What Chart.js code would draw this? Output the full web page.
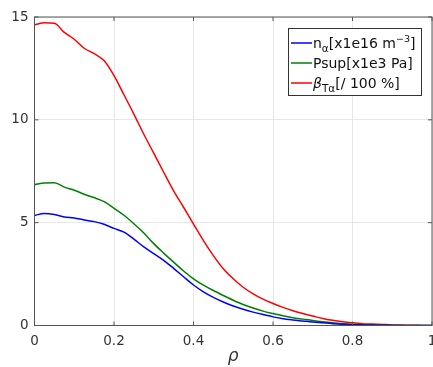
<!DOCTYPE html>
<html><head><meta charset="utf-8">
<script src="https://cdn.jsdelivr.net/npm/chart.js@4"></script>
<style>html,body{margin:0;padding:0;background:#fff}</style>
</head><body>
<canvas id="c" width="433" height="367"></canvas>
<script>
const rho = [0,0.025,0.05,0.075,0.1,0.125,0.15,0.175,0.2,0.225,0.25,0.275,0.3,0.325,0.35,0.375,0.4,0.425,0.45,0.475,0.5,0.525,0.55,0.575,0.6,0.625,0.65,0.675,0.7,0.725,0.75,0.775,0.8,0.825,0.85,0.875,0.9,0.925,0.95,0.975,1];
const nAlpha = [5.35,5.45,5.40,5.28,5.23,5.13,5.05,4.92,4.72,4.54,4.20,3.82,3.50,3.17,2.78,2.37,1.97,1.64,1.37,1.14,0.95,0.79,0.65,0.53,0.42,0.33,0.27,0.22,0.17,0.13,0.09,0.06,0.04,0.03,0.02,0.01,0.005,0,0,0,0];
const pSup = [6.85,6.93,6.94,6.73,6.58,6.38,6.22,6.02,5.70,5.36,4.95,4.50,3.98,3.52,3.08,2.65,2.27,1.96,1.70,1.46,1.23,1.02,0.85,0.70,0.58,0.47,0.38,0.31,0.24,0.18,0.13,0.09,0.06,0.04,0.025,0.015,0.01,0.005,0,0,0];
const betaT = [14.62,14.72,14.70,14.25,13.92,13.48,13.22,12.88,12.15,11.22,10.28,9.30,8.38,7.45,6.55,5.75,4.93,4.13,3.40,2.76,2.27,1.86,1.54,1.28,1.07,0.88,0.72,0.58,0.46,0.34,0.25,0.18,0.13,0.09,0.07,0.05,0.03,0.02,0.01,0.005,0];
const xTicks = [0,0.2,0.4,0.6,0.8,1];
const yTicks = [0,5,10,15];
const seriesColors = ['#0000ff','#008000','#ff0000'];
const legendLabels = [
  [{t:'n'},{t:'α',sub:true},{t:'[x1e16 m'},{t:'−3',sup:true},{t:']'}],
  [{t:'Psup[x1e3 Pa]'}],
  [{t:'β',it:true},{t:'Tα',sub:true},{t:'[/ 100 %]'}]
];
const xTitle = 'ρ';

const pts = arr => rho.map((r,i)=>({x:r,y:arr[i]}));
const FONT = 'DejaVu Sans';
const AX = '#555555';

const boxPlugin = {
  id:'box',
  afterDatasetsDraw(chart){
    const {ctx, chartArea:a, scales:{x,y}} = chart;
    ctx.save();
    ctx.strokeStyle = AX; ctx.lineWidth = 1;
    ctx.strokeRect(a.left, a.top, a.right-a.left, a.bottom-a.top);
    ctx.beginPath();
    xTicks.forEach(v=>{const px=x.getPixelForValue(v); ctx.moveTo(px,a.bottom); ctx.lineTo(px,a.bottom-4); ctx.moveTo(px,a.top); ctx.lineTo(px,a.top+4);});
    yTicks.forEach(v=>{const py=y.getPixelForValue(v); ctx.moveTo(a.left,py); ctx.lineTo(a.left+4,py); ctx.moveTo(a.right,py); ctx.lineTo(a.right-4,py);});
    ctx.stroke();
    // legend
    const lx=288.5, ly=28.5, lw=133, lh=67;
    ctx.fillStyle='#fff'; ctx.fillRect(lx,ly,lw,lh);
    ctx.strokeStyle='#333'; ctx.strokeRect(lx,ly,lw,lh);
    const rows=[43,63,83];
    legendLabels.forEach((segs,i)=>{
      const yy=rows[i];
      ctx.strokeStyle=seriesColors[i]; ctx.lineWidth=1.5;
      ctx.beginPath(); ctx.moveTo(291,yy); ctx.lineTo(312,yy); ctx.stroke();
      let cx=313;
      ctx.fillStyle='#111'; ctx.textBaseline='alphabetic'; ctx.textAlign='left';
      segs.forEach(s=>{
        let size=14, dy=5;
        if(s.sub){size=10.5; dy=9;}
        if(s.sup){size=9.5; dy=-1.5;}
        ctx.font=(s.it?'italic ':'')+size+'px "'+FONT+'"';
        ctx.fillText(s.t,cx,yy+dy);
        cx+=ctx.measureText(s.t).width;
      });
    });
    ctx.restore();
  }
};

const ds = (label,arr,col)=>({label,data:pts(arr),borderColor:col,borderWidth:1.5,pointRadius:0,cubicInterpolationMode:'monotone'});

new Chart(document.getElementById('c'),{
  type:'line',
  data:{datasets:[
    ds('n_alpha',nAlpha,seriesColors[0]),
    ds('Psup',pSup,seriesColors[1]),
    ds('beta',betaT,seriesColors[2])
  ]},
  options:{
    responsive:false, animation:false,
    layout:{padding:{left:0,right:1,top:17,bottom:0}},
    plugins:{legend:{display:false},tooltip:{enabled:false}},
    scales:{
      x:{type:'linear',min:0,max:1,
        afterBuildTicks(s){s.ticks=xTicks.map(v=>({value:v}));},
        afterFit(s){s.height=41.5;s.paddingLeft=0;s.paddingRight=0;},
        ticks:{color:'#333',font:{family:FONT,size:13.5},padding:8,maxRotation:0,callback:v=>String(v)},
        grid:{color:'#e8e8e8',drawTicks:false,tickLength:0},
        border:{display:false},
        title:{display:true,text:xTitle,color:'#333',font:{family:FONT,size:17,style:'italic'},padding:{top:0,bottom:0}}
      },
      y:{min:0,max:15,
        afterBuildTicks(s){s.ticks=yTicks.map(v=>({value:v}));},
        afterFit(s){s.width=34.5;s.paddingTop=0;s.paddingBottom=0;},
        ticks:{color:'#333',font:{family:FONT,size:13.5},padding:6},
        grid:{color:'#e8e8e8',drawTicks:false,tickLength:0},
        border:{display:false}
      }
    }
  },
  plugins:[boxPlugin]
});
</script>
</body></html>
